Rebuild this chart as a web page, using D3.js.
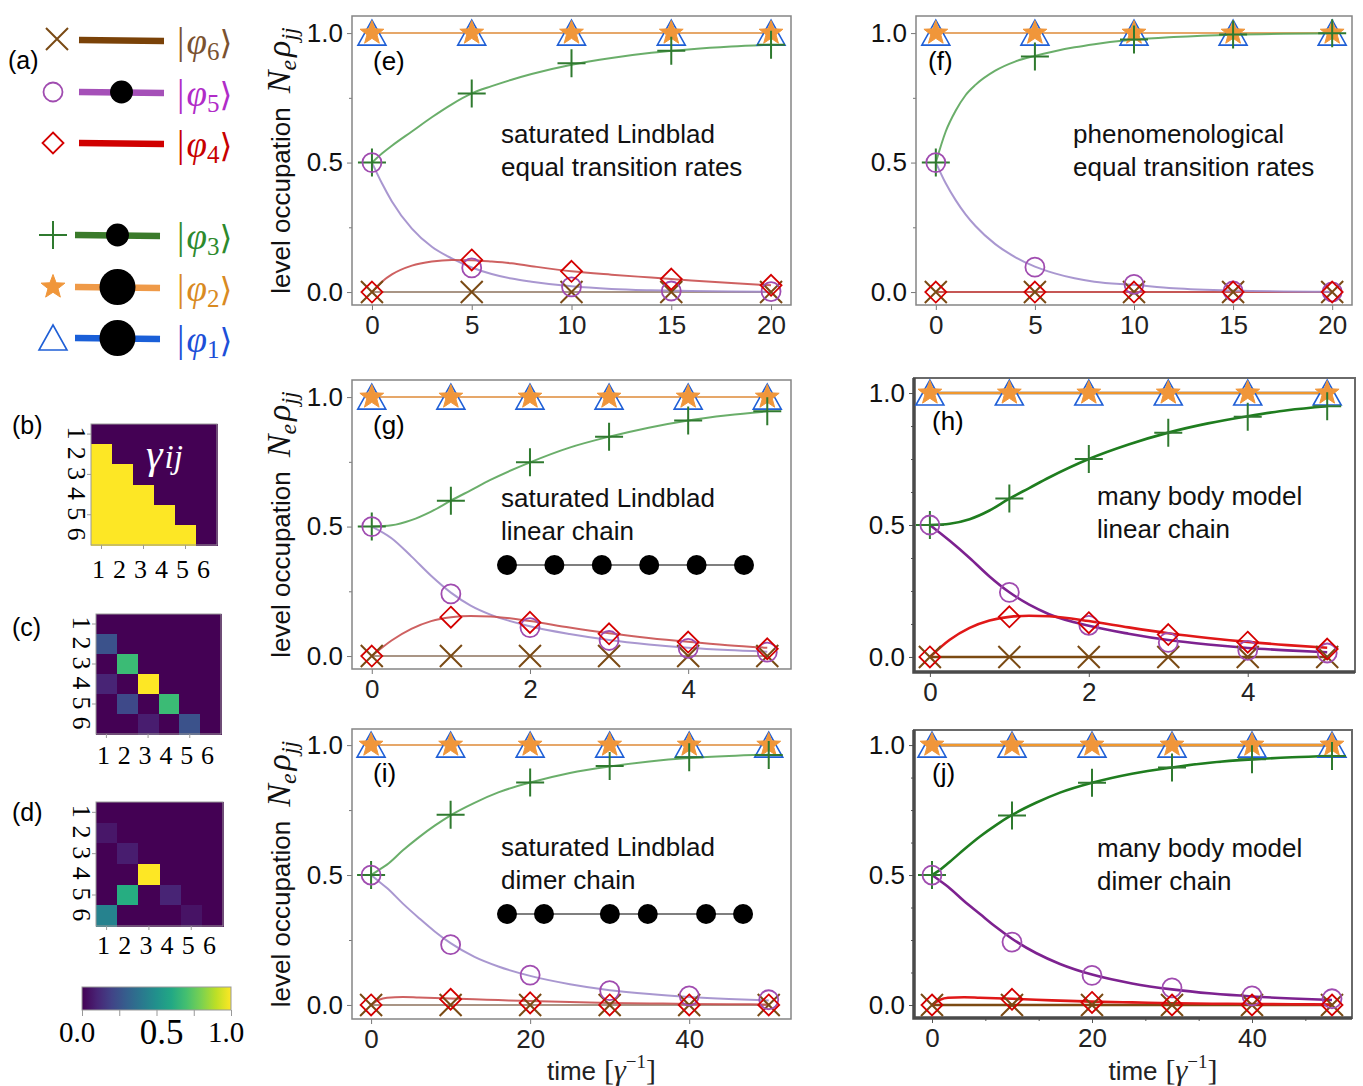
<!DOCTYPE html>
<html>
<head>
<meta charset="utf-8">
<script src="https://cdn.jsdelivr.net/npm/d3@7"></script>
<style>
body { margin: 0; background: #fff; }
</style>
</head>
<body>
<svg id="fig" width="1363" height="1086"></svg>
<script>
// ---------- data ----------
let levelNames = ["6", "5", "4", "3", "2", "1"];
let legendOcc = [0, 0.5, 0, 0.5, 1, 1];          // initial occupation shown as dot size
let heatTicks = ["1", "2", "3", "4", "5", "6"];
let cbarTicks = [0, 0.25, 0.5, 0.75, 1];

let gammaEqual = [
  [0, 0, 0, 0, 0, 0],
  [1, 0, 0, 0, 0, 0],
  [1, 1, 0, 0, 0, 0],
  [1, 1, 1, 0, 0, 0],
  [1, 1, 1, 1, 0, 0],
  [1, 1, 1, 1, 1, 0]];
let gammaLinear = [
  [0, 0, 0, 0, 0, 0],
  [0.25, 0, 0, 0, 0, 0],
  [0, 0.68, 0, 0, 0, 0],
  [0.1, 0, 1, 0, 0, 0],
  [0, 0.22, 0, 0.68, 0, 0],
  [0, 0, 0.08, 0, 0.25, 0]];
let gammaDimer = [
  [0, 0, 0, 0, 0, 0],
  [0.06, 0, 0, 0, 0, 0],
  [0, 0.08, 0, 0, 0, 0],
  [0, 0, 1, 0, 0, 0],
  [0, 0.62, 0, 0.1, 0, 0],
  [0.44, 0, 0, 0, 0.05, 0]];

let chainLinear = [0, 1, 2, 3, 4, 5];
let chainDimer = [0, 0.78, 2.17, 2.97, 4.2, 4.98];

// panel (e) saturated Lindblad, equal rates
let tE = [0, 0.5, 1, 2, 3, 4, 5, 6, 7, 8, 10, 12, 14, 16, 18, 20];
let greenE = [0.5, 0.535, 0.565, 0.62, 0.675, 0.725, 0.767, 0.795, 0.82, 0.842, 0.878, 0.904, 0.924, 0.938, 0.948, 0.955];
let purpleE = [0.5, 0.42, 0.35, 0.245, 0.175, 0.13, 0.095, 0.07, 0.052, 0.04, 0.022, 0.012, 0.007, 0.004, 0.002, 0.001];
let redE = [0, 0.04, 0.068, 0.102, 0.118, 0.124, 0.123, 0.118, 0.111, 0.1, 0.08, 0.067, 0.056, 0.045, 0.035, 0.026];
let tEndE = [0, 20];
let mtE = [0, 5, 10, 15, 20];
let mGreenE = [0.5, 0.767, 0.884, 0.932, 0.955];
let mPurpleE = [0.5, 0.093, 0.02, 0.004, 0.002];
let mRedE = [0, 0.124, 0.08, 0.05, 0.026];

// panel (f) phenomenological, equal rates
let tF = [0, 0.5, 1, 1.5, 2, 3, 4, 5, 6, 7, 8, 10, 12, 15, 20];
let greenF = [0.5, 0.62, 0.7, 0.76, 0.8, 0.855, 0.89, 0.912, 0.93, 0.945, 0.957, 0.975, 0.985, 0.994, 0.999];
let purpleF = [0.5, 0.42, 0.355, 0.3, 0.255, 0.185, 0.135, 0.098, 0.072, 0.053, 0.04, 0.028, 0.015, 0.006, 0.001];
let tEndF = [0, 20];
let mtF = [0, 5, 10, 15, 20];
let mGreenF = [0.5, 0.91, 0.975, 0.995, 0.999];
let mPurpleF = [0.5, 0.096, 0.03, 0.004, 0.001];

// panel (g) saturated Lindblad, linear chain
let tG = [0, 0.25, 0.5, 0.75, 1, 1.25, 1.5, 2, 2.5, 3, 3.5, 4, 4.5, 5];
let greenG = [0.5, 0.505, 0.525, 0.558, 0.6, 0.64, 0.68, 0.748, 0.805, 0.847, 0.882, 0.91, 0.93, 0.945];
let purpleG = [0.5, 0.455, 0.385, 0.31, 0.245, 0.195, 0.16, 0.115, 0.085, 0.062, 0.045, 0.032, 0.023, 0.017];
let redG = [0, 0.06, 0.105, 0.135, 0.15, 0.155, 0.153, 0.135, 0.11, 0.088, 0.07, 0.055, 0.042, 0.032];
let tEndG = [0, 5];
let mtG = [0, 1, 2, 3, 4, 5];
let mGreenG = [0.5, 0.6, 0.748, 0.847, 0.91, 0.945];
let mPurpleG = [0.5, 0.24, 0.11, 0.06, 0.03, 0.015];
let mRedG = [0, 0.15, 0.13, 0.086, 0.054, 0.028];

// panel (h) many body model, linear chain
let tH = [0, 0.25, 0.5, 0.75, 1, 1.25, 1.5, 2, 2.5, 3, 3.5, 4, 4.5, 5];
let greenH = [0.5, 0.505, 0.522, 0.555, 0.6, 0.64, 0.68, 0.75, 0.805, 0.85, 0.885, 0.912, 0.935, 0.95];
let purpleH = [0.5, 0.44, 0.375, 0.305, 0.245, 0.198, 0.162, 0.118, 0.088, 0.064, 0.047, 0.034, 0.025, 0.018];
let redH = [0, 0.065, 0.11, 0.138, 0.152, 0.156, 0.154, 0.136, 0.112, 0.09, 0.072, 0.057, 0.045, 0.035];
let tEndH = [0, 5];
let mtH = [0, 1, 2, 3, 4, 5];
let mGreenH = [0.5, 0.6, 0.75, 0.85, 0.91, 0.95];
let mPurpleH = [0.5, 0.245, 0.12, 0.055, 0.025, 0.015];
let mRedH = [0, 0.152, 0.13, 0.085, 0.056, 0.03];

// panel (i) saturated Lindblad, dimer chain
let tI = [0, 1, 2, 4, 6, 8, 10, 13, 16, 20, 25, 30, 35, 40, 45, 50];
let greenI = [0.5, 0.52, 0.54, 0.595, 0.645, 0.69, 0.73, 0.778, 0.818, 0.856, 0.893, 0.918, 0.937, 0.95, 0.958, 0.963];
let purpleI = [0.5, 0.475, 0.45, 0.39, 0.335, 0.283, 0.238, 0.185, 0.148, 0.112, 0.08, 0.057, 0.042, 0.031, 0.023, 0.017];
let redI = [0, 0.02, 0.028, 0.031, 0.029, 0.027, 0.025, 0.022, 0.019, 0.015, 0.011, 0.008, 0.006, 0.004, 0.003, 0.002];
let tEndI = [0, 50];
let mtI = [0, 10, 20, 30, 40, 50];
let mGreenI = [0.5, 0.732, 0.856, 0.92, 0.953, 0.962];
let mPurpleI = [0.5, 0.232, 0.115, 0.055, 0.035, 0.02];
let mRedI = [0, 0.022, 0.008, 0, 0, 0];

// panel (j) many body model, dimer chain
let tJ = [0, 1, 2, 4, 6, 8, 10, 13, 16, 20, 25, 30, 35, 40, 45, 50];
let greenJ = [0.5, 0.52, 0.545, 0.598, 0.648, 0.692, 0.731, 0.778, 0.817, 0.855, 0.89, 0.914, 0.933, 0.945, 0.953, 0.958];
let purpleJ = [0.5, 0.478, 0.455, 0.4, 0.35, 0.3, 0.255, 0.2, 0.158, 0.117, 0.083, 0.06, 0.044, 0.033, 0.025, 0.019];
let redJ = [0, 0.02, 0.028, 0.03, 0.028, 0.026, 0.024, 0.02, 0.017, 0.013, 0.01, 0.007, 0.005, 0.004, 0.003, 0.002];
let tEndJ = [0, 50];
let mtJ = [0, 10, 20, 30, 40, 50];
let mGreenJ = [0.5, 0.729, 0.855, 0.914, 0.945, 0.958];
let mPurpleJ = [0.5, 0.242, 0.114, 0.066, 0.035, 0.024];
let mRedJ = [0, 0.022, 0.01, 0, 0, 0];

let flatOne = [1, 1];
let flatZero = [0, 0];
let ones5 = [1, 1, 1, 1, 1];
let zeros5 = [0, 0, 0, 0, 0];
let ones6 = [1, 1, 1, 1, 1, 1];
let zeros6 = [0, 0, 0, 0, 0, 0];

// ---------- styles ----------
let sans = "'Liberation Sans', Arial, sans-serif";
let serif = "'Liberation Serif', 'DejaVu Serif', serif";

let markCol = {blue: "#1f5fd6", orange: "#f0963a", green: "#2f7a2f", red: "#d40000", purple: "#a04cb0", brown: "#7a4a14"};
let lightLine = {blue: "#6a90dc", orange: "#f2a85c", green: "#5aa55a", red: "#c95050", purple: "#a08ccb", brown: "#a08a78"};
let darkLine = {blue: "#2060d0", orange: "#f0982e", green: "#1f7d1f", red: "#e01818", purple: "#7d2290", brown: "#7b4a12"};
let legendLine = {brown: "#7a4208", purple: "#a550b8", red: "#d00000", green: "#3a7a2a", orange: "#ef9a48", blue: "#1a5fd8"};
let legendText = {brown: "#7a5230", purple: "#b02cc8", red: "#c80000", green: "#2d8a2d", orange: "#d98a22", blue: "#1d4fd8"};
let levelKeys = ["brown", "purple", "red", "green", "orange", "blue"];
let legendMarker = ["x", "circle", "diamond", "plus", "star", "triangle"];

let svg = d3.select("#fig");

// ---------- marker shapes ----------
let starPath = (R) => {
    let p = [];
    for (let k = 0; k < 10; k++) {
        let a = -Math.PI / 2 + k * Math.PI / 5;
        let r = k % 2 ? R * 0.42 : R;
        p.push([r * Math.cos(a), r * Math.sin(a)]);
    }
    return "M" + p.join("L") + "Z";
}

let markerShape = {
    x: {d: "M-11,-11L11,11M-11,11L11,-11", fill: false, w: 2},
    circle: {d: d3.symbol(d3.symbolCircle, Math.PI * 9.5 * 9.5)(), fill: false, w: 1.8},
    diamond: {d: "M0,-10.5L10.5,0L0,10.5L-10.5,0Z", fill: false, w: 1.8},
    plus: {d: "M-14,0H14M0,-14V14", fill: false, w: 2},
    star: {d: starPath(12.5), fill: true, w: 1},
    triangle: {d: "M0,-13L14,12L-14,12Z", fill: false, w: 1.6}
};
let markerOf = {brown: "x", purple: "circle", red: "diamond", green: "plus", orange: "star", blue: "triangle"};

let drawMarker = (g, type, color, x, y) => {
    let s = markerShape[type];
    g.append("path")
        .attr("d", s.d)
        .attr("transform", "translate(" + x + "," + y + ")")
        .attr("fill", s.fill ? color : "none")
        .attr("stroke", color)
        .attr("stroke-width", s.w)
        .attr("stroke-linejoin", "miter");
}

// ---------- (a) legend ----------
let drawLegend = () => {
    let rowY = [40, 92, 143, 235, 287, 338];
    let dotR = d3.scalePow().exponent(0.65).domain([0, 1]).range([0, 18]);
    let g = svg.append("g");

    g.append("text").attr("x", 8).attr("y", 69)
        .attr("font-family", sans).attr("font-size", 25).text("(a)");

    levelNames.forEach((name, i) => {
        let key = levelKeys[i];
        let y = rowY[i];
        let lx0 = i < 3 ? 79 : 75;
        let lx1 = i < 3 ? 164 : 160;
        drawMarker(g, legendMarker[i], markCol[key], i == 0 ? 57 : 53, i == 0 ? 39 : y);
        g.append("line")
            .attr("x1", lx0).attr("x2", lx1).attr("y1", y).attr("y2", y + 1)
            .attr("stroke", legendLine[key]).attr("stroke-width", 6.5);
        if (legendOcc[i] > 0) {
            g.append("circle").attr("cx", (lx0 + lx1) / 2).attr("cy", y)
                .attr("r", dotR(legendOcc[i])).attr("fill", "#000");
        }
        let t = g.append("text").attr("x", 177).attr("y", y + 14)
            .attr("font-family", serif).attr("font-size", 37).attr("fill", legendText[key]);
        t.append("tspan").text("|");
        t.append("tspan").attr("font-style", "italic").attr("dx", 2).text("φ");
        t.append("tspan").attr("font-size", 25).attr("dy", 6).text(name);
        t.append("tspan").attr("dy", -6).attr("font-family", "'DejaVu Sans', sans-serif").attr("font-size", 33).text("⟩");
    });
}

// ---------- (b)-(d) rate matrices ----------
let color = d3.scaleSequential(d3.interpolateViridis).domain([0, 1]);

let drawMatrix = (m, tag, box, tagY, ticksY) => {
    let [x0, y0, x1, y1] = box;
    let g = svg.append("g");
    let xs = d3.scaleBand().domain(d3.range(6)).range([x0, x1]);
    let ys = d3.scaleBand().domain(d3.range(6)).range([y0, y1]);

    m.forEach((row, r) => row.forEach((v, c) => {
        g.append("rect")
            .attr("x", xs(c)).attr("y", ys(r))
            .attr("width", xs.bandwidth() + 1).attr("height", ys.bandwidth() + 1)
            .attr("shape-rendering", "crispEdges")
            .attr("fill", color(v));
    }));
    g.append("rect").attr("x", x0).attr("y", y0).attr("width", x1 - x0).attr("height", y1 - y0)
        .attr("fill", "none").attr("stroke", "#999").attr("stroke-width", 1);

    [0, 2, 4].forEach((k) => {
        let cx = xs(k) + xs.bandwidth() / 2;
        let cy = ys(k) + ys.bandwidth() / 2;
        g.append("line").attr("x1", cx).attr("x2", cx).attr("y1", y1).attr("y2", y1 + 4).attr("stroke", "#999");
        g.append("line").attr("x1", x0 - 4).attr("x2", x0).attr("y1", cy).attr("y2", cy).attr("stroke", "#999");
    });

    heatTicks.forEach((lab, k) => {
        g.append("text")
            .attr("x", xs(k) + xs.bandwidth() / 2 - 3).attr("y", ticksY)
            .attr("text-anchor", "middle").attr("dominant-baseline", "central")
            .attr("font-family", serif).attr("font-size", 26).text(lab);
        g.append("text")
            .attr("transform", "translate(" + (x0 - 15) + "," + (ys(k) + ys.bandwidth() / 2 - 1) + ") rotate(90)")
            .attr("text-anchor", "middle").attr("dominant-baseline", "central")
            .attr("font-family", serif).attr("font-size", 26).text(lab);
    });

    g.append("text").attr("x", 12).attr("y", tagY)
        .attr("font-family", sans).attr("font-size", 25).text(tag);
    return g;
}

let drawMatrices = () => {
    let gb = drawMatrix(gammaEqual, "(b)", [91, 424, 217, 545], 434, 569);
    let t = gb.append("text").attr("x", 146).attr("y", 468).attr("fill", "#fff")
        .attr("font-family", serif).attr("font-style", "italic");
    t.append("tspan").attr("font-size", 42).text("γ");
    t.append("tspan").attr("font-size", 33).attr("dx", 2).text("ij");

    drawMatrix(gammaLinear, "(c)", [96, 614, 221, 734], 636, 755);
    drawMatrix(gammaDimer, "(d)", [96, 802, 223, 926], 821, 945);

    // colour bar
    let cx = d3.scaleLinear().domain([0, 1]).range([82, 231]);
    let defs = svg.append("defs");
    let grad = defs.append("linearGradient").attr("id", "viridis");
    d3.range(0, 1.0001, 0.1).forEach((v) => {
        grad.append("stop").attr("offset", v * 100 + "%").attr("stop-color", color(v));
    });
    svg.append("rect").attr("x", cx(0)).attr("y", 987).attr("width", cx(1) - cx(0)).attr("height", 23)
        .attr("fill", "url(#viridis)").attr("stroke", "#999");
    svg.append("g").attr("transform", "translate(0,1010)")
        .call(d3.axisBottom(cx).tickValues(cbarTicks).tickSize(6).tickFormat(""))
        .call((s) => s.select(".domain").remove())
        .call((s) => s.selectAll("line").attr("stroke", "#999"));
    [[0, 29, -5], [0.5, 35, 5], [1, 29, -5]].forEach(([v, fs, dx]) => {
        svg.append("text").attr("x", cx(v) + dx).attr("y", 1032)
            .attr("text-anchor", "middle").attr("dominant-baseline", "central")
            .attr("font-family", serif).attr("font-size", fs).text(d3.format(".1f")(v));
    });
}

// ---------- (e)-(j) occupation panels ----------
let panels = [
    {tag: "(e)", box: [352, 16, 791, 305], xd: [-1, 21], yd: [-0.05, 1.066], xt: [0, 5, 10, 15, 20],
     minor: [0.25, 0.75], dark: false, ylab: true, note: ["saturated Lindblad", "equal transition rates"], noteX: 501, tagX: 373,
     lines: [["brown", tEndE, flatZero], ["blue", tEndE, flatOne], ["orange", tEndE, flatOne], ["green", tE, greenE], ["purple", tE, purpleE], ["red", tE, redE]],
     marks: [["brown", mtE, zeros5], ["blue", mtE, ones5], ["orange", mtE, ones5], ["green", mtE, mGreenE], ["purple", mtE, mPurpleE], ["red", mtE, mRedE]]},
    {tag: "(f)", box: [916, 16, 1352, 305], xd: [-1, 21], yd: [-0.05, 1.066], xt: [0, 5, 10, 15, 20],
     minor: [0.25, 0.75], dark: false, ylab: false, note: ["phenomenological", "equal transition rates"], noteX: 1073, tagX: 928,
     lines: [["brown", tEndF, flatZero], ["red", tEndF, flatZero], ["blue", tEndF, flatOne], ["orange", tEndF, flatOne], ["green", tF, greenF], ["purple", tF, purpleF]],
     marks: [["brown", mtF, zeros5], ["blue", mtF, ones5], ["orange", mtF, ones5], ["green", mtF, mGreenF], ["purple", mtF, mPurpleF], ["red", mtF, zeros5]]},
    {tag: "(g)", box: [352, 380, 791, 669], xd: [-0.25, 5.3], yd: [-0.05, 1.066], xt: [0, 2, 4],
     minor: [0.25, 0.75], dark: false, ylab: true, note: ["saturated Lindblad", "linear chain"], noteX: 501, tagX: 373, chain: chainLinear,
     lines: [["brown", tEndG, flatZero], ["blue", tEndG, flatOne], ["orange", tEndG, flatOne], ["green", tG, greenG], ["purple", tG, purpleG], ["red", tG, redG]],
     marks: [["brown", mtG, zeros6], ["blue", mtG, ones6], ["orange", mtG, ones6], ["green", mtG, mGreenG], ["purple", mtG, mPurpleG], ["red", mtG, mRedG]]},
    {tag: "(h)", box: [914, 378, 1355, 672], xd: [-0.2, 5.35], yd: [-0.057, 1.057], xt: [0, 2, 4],
     minor: [0.125, 0.25, 0.375, 0.625, 0.75, 0.875], dark: true, ylab: false, note: ["many body model", "linear chain"], noteX: 1097, tagX: 932,
     lines: [["brown", tEndH, flatZero], ["blue", tEndH, flatOne], ["orange", tEndH, flatOne], ["green", tH, greenH], ["purple", tH, purpleH], ["red", tH, redH]],
     marks: [["brown", mtH, zeros6], ["blue", mtH, ones6], ["orange", mtH, ones6], ["green", mtH, mGreenH], ["purple", mtH, mPurpleH], ["red", mtH, mRedH]]},
    {tag: "(i)", box: [352, 729, 791, 1019], xd: [-2.4, 52.8], yd: [-0.054, 1.062], xt: [0, 20, 40],
     minor: [0.25, 0.75], dark: false, ylab: true, note: ["saturated Lindblad", "dimer chain"], noteX: 501, tagX: 373, chain: chainDimer, xlab: true,
     lines: [["brown", tEndI, flatZero], ["blue", tEndI, flatOne], ["orange", tEndI, flatOne], ["green", tI, greenI], ["purple", tI, purpleI], ["red", tI, redI]],
     marks: [["brown", mtI, zeros6], ["blue", mtI, ones6], ["orange", mtI, ones6], ["green", mtI, mGreenI], ["purple", mtI, mPurpleI], ["red", mtI, mRedI]]},
    {tag: "(j)", box: [914, 730, 1352, 1018], xd: [-2.25, 52.5], yd: [-0.05, 1.058], xt: [0, 20, 40], xminor: [20 / 3, 40 / 3, 80 / 3, 100 / 3, 140 / 3],
     minor: [0.125, 0.25, 0.375, 0.625, 0.75, 0.875], dark: true, ylab: false, note: ["many body model", "dimer chain"], noteX: 1097, tagX: 932, xlab: true,
     lines: [["brown", tEndJ, flatZero], ["blue", tEndJ, flatOne], ["orange", tEndJ, flatOne], ["green", tJ, greenJ], ["purple", tJ, purpleJ], ["red", tJ, redJ]],
     marks: [["brown", mtJ, zeros6], ["blue", mtJ, ones6], ["orange", mtJ, ones6], ["green", mtJ, mGreenJ], ["purple", mtJ, mPurpleJ], ["red", mtJ, mRedJ]]}
];

let markOrder = ["brown", "blue", "orange", "green", "purple", "red"];

let drawPanel = (p) => {
    let [x0, y0, x1, y1] = p.box;
    let x = d3.scaleLinear().domain(p.xd).range([x0, x1]);
    let y = d3.scaleLinear().domain(p.yd).range([y1, y0]);
    let g = svg.append("g");
    let tickCol = p.dark ? "#555" : "#777";

    // axes
    let yAxis = d3.axisLeft(y).tickValues([0, 0.5, 1]).tickFormat(d3.format(".1f")).tickSize(5).tickPadding(4);
    g.append("g").attr("transform", "translate(" + x0 + ",0)").call(yAxis)
        .call((s) => s.select(".domain").remove())
        .call((s) => s.selectAll("line").attr("stroke", tickCol))
        .call((s) => s.selectAll("text").attr("font-family", sans).attr("font-size", 26).attr("fill", "#111"));
    g.append("g").attr("transform", "translate(" + x0 + ",0)")
        .call(d3.axisLeft(y).tickValues(p.minor).tickFormat("").tickSize(3))
        .call((s) => s.select(".domain").remove())
        .call((s) => s.selectAll("line").attr("stroke", tickCol));

    let xAxis = d3.axisBottom(x).tickValues(p.xt).tickFormat(d3.format("d")).tickSize(5).tickPadding(6);
    g.append("g").attr("transform", "translate(0," + y1 + ")").call(xAxis)
        .call((s) => s.select(".domain").remove())
        .call((s) => s.selectAll("line").attr("stroke", tickCol))
        .call((s) => s.selectAll("text").attr("font-family", sans).attr("font-size", 26).attr("fill", "#222"));
    if (p.xminor) {
        g.append("g").attr("transform", "translate(0," + y1 + ")")
            .call(d3.axisBottom(x).tickValues(p.xminor).tickFormat("").tickSize(3))
            .call((s) => s.select(".domain").remove())
            .call((s) => s.selectAll("line").attr("stroke", tickCol));
    }

    // frame
    g.append("rect").attr("x", x0).attr("y", y0).attr("width", x1 - x0).attr("height", y1 - y0)
        .attr("fill", "none").attr("stroke", p.dark ? "#6a6a6a" : "#858585").attr("stroke-width", p.dark ? 2 : 1.5);
    if (p.dark) {
        g.append("path").attr("d", "M" + x0 + "," + y0 + "V" + y1 + "H" + x1)
            .attr("fill", "none").attr("stroke", "#4a4a4a").attr("stroke-width", 3.5);
    }

    // curves
    let pal = p.dark ? darkLine : lightLine;
    p.lines.forEach(([key, ts, vs]) => {
        let line = d3.line().x((d, i) => x(ts[i])).y((d) => y(d)).curve(d3.curveMonotoneX);
        g.append("path").attr("d", line(vs))
            .attr("fill", "none").attr("stroke", pal[key])
            .attr("stroke-width", p.dark ? 2.6 : 2).attr("stroke-opacity", p.dark ? 1 : 0.9);
    });

    // markers
    markOrder.forEach((key) => {
        let m = p.marks.find((d) => d[0] == key);
        m[1].forEach((t, i) => drawMarker(g, markerOf[key], markCol[key], x(t), y(m[2][i])));
    });

    // annotations
    g.append("text").attr("x", p.tagX).attr("y", y(1) + 37)
        .attr("font-family", sans).attr("font-size", 26).text(p.tag);
    p.note.forEach((s, i) => {
        g.append("text").attr("x", p.noteX).attr("y", y0 + 127 + i * 33)
            .attr("font-family", sans).attr("font-size", 26).attr("fill", "#111").text(s);
    });

    if (p.chain) {
        let cx = d3.scaleLinear().domain([0, 5]).range([507, 744]);
        let cy = y0 + 185;
        g.append("line").attr("x1", cx(0)).attr("x2", cx(5)).attr("y1", cy).attr("y2", cy)
            .attr("stroke", "#555").attr("stroke-width", 1.5);
        p.chain.forEach((c) => {
            g.append("circle").attr("cx", cx(c)).attr("cy", cy).attr("r", 10).attr("fill", "#000");
        });
    }

    if (p.ylab) {
        let t = g.append("text")
            .attr("transform", "translate(290," + ((y0 + y1) / 2) + ") rotate(-90)")
            .attr("text-anchor", "middle").attr("fill", "#111");
        t.append("tspan").attr("font-family", sans).attr("font-size", 26).text("level occupation");
        t.append("tspan").attr("dx", 14).attr("font-family", serif).attr("font-style", "italic").attr("font-size", 34).text("N");
        t.append("tspan").attr("dy", 6).attr("font-family", serif).attr("font-style", "italic").attr("font-size", 24).text("e");
        t.append("tspan").attr("dy", -6).attr("dx", 3).attr("font-family", serif).attr("font-style", "italic").attr("font-size", 34).text("ρ");
        t.append("tspan").attr("dy", 7).attr("font-family", serif).attr("font-style", "italic").attr("font-size", 24).text("jj");
    }

    if (p.xlab) {
        let t = g.append("text").attr("x", (x0 + x1) / 2 + 30).attr("y", 1080)
            .attr("text-anchor", "middle").attr("fill", "#222");
        t.append("tspan").attr("font-family", sans).attr("font-size", 26).text("time");
        t.append("tspan").attr("dx", 8).attr("font-family", serif).attr("font-size", 30).text("[");
        t.append("tspan").attr("font-family", serif).attr("font-style", "italic").attr("font-size", 30).text("γ");
        t.append("tspan").attr("dy", -12).attr("font-family", serif).attr("font-size", 19).text("−1");
        t.append("tspan").attr("dy", 12).attr("font-family", serif).attr("font-size", 30).text("]");
    }
}

drawLegend();
drawMatrices();
panels.forEach(drawPanel);
</script>
</body>
</html>
